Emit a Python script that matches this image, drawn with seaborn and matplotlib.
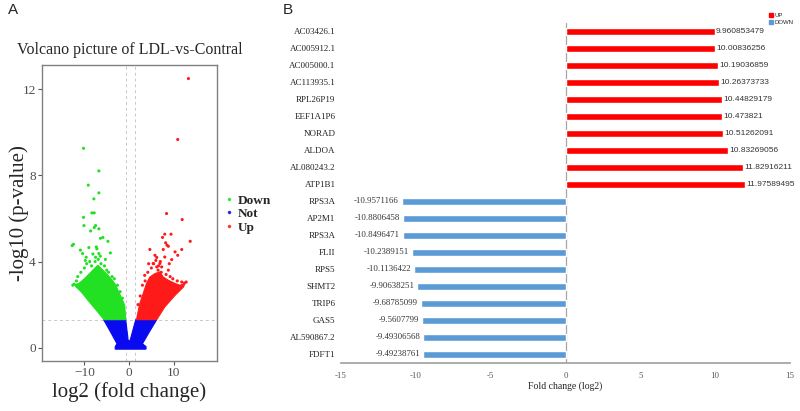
import numpy as np
import pandas as pd
import matplotlib
matplotlib.use("Agg")
import matplotlib.pyplot as plt
import seaborn as sns
from matplotlib.lines import Line2D
from matplotlib.patches import Patch

# ---------------- Panel B data ----------------
genes = ["AC03426.1", "AC005912.1", "AC005000.1", "AC113935.1", "RPL26P19",
         "EEF1A1P6", "NORAD", "ALDOA", "AL080243.2", "ATP1B1",
         "RPS3A", "AP2M1", "RPS3A", "FLII", "RPS5",
         "SHMT2", "TRIP6", "GAS5", "AL590867.2", "FDFT1"]
fold_changes = [9.960853479, 10.00836256, 10.19036859, 10.26373733, 10.44829179,
                10.473821, 10.51262091, 10.83269056, 11.82916211, 11.97589495,
                -10.9571166, -10.8806458, -10.8496471, -10.2389151, -10.1136422,
                -9.90638251, -9.68785099, -9.5607799, -9.49306568, -9.49238761]
directions = ["UP", "UP", "UP", "UP", "UP", "UP", "UP", "UP", "UP", "UP",
              "DOWN", "DOWN", "DOWN", "DOWN", "DOWN", "DOWN", "DOWN", "DOWN", "DOWN", "DOWN"]
bar_xticks = [-15, -10, -5, 0, 5, 10, 15]

# ---------------- Panel A data ----------------
down_x = [-10.2, -6.76, -9.14, -6.76, -7.88, -8.33, -7.8, -10.2, -10.1, -7.5, -7.8, -6.76,
          -8.6, -6.4, -5.86, -4.73, -12.45, -12.75, -7.34, -7.2, -9.0, -10.9, -10.4, -6.76,
          -6.44, -4.19, -9.6, -7.5, -11.5, -10.8, -10.0, -9.5, -8.8, -8.4, -7.6, -6.9, -6.3,
          -5.5, -5.0, -4.6, -3.8, -3.3, -12.3, -11.8, -9.8, -5.3, -8.1, -12.6, -2.6, -2.0, -1.5]
down_y = [9.26, 8.21, 7.55, 7.19, 6.91, 6.26, 6.26, 6.05, 5.67, 5.67, 5.58, 5.52,
          5.42, 5.08, 5.12, 4.94, 4.8, 4.74, 4.68, 4.59, 4.65, 4.53, 4.37, 4.37,
          4.25, 4.4, 4.2, 4.2, 3.3, 3.5, 3.7, 3.9, 4.0, 3.8, 4.0, 4.1, 3.9,
          3.8, 3.6, 3.5, 3.3, 3.2, 2.95, 3.1, 4.05, 4.1, 4.35, 2.9, 2.9, 2.6, 2.3]
up_x = [13.3, 10.9, 8.4, 11.9, 8.0, 9.4, 7.5, 8.2, 8.5, 13.7, 4.66, 7.66, 11.8, 8.8, 10.3,
        10.9, 5.8, 6.2, 9.55, 8.0, 5.4, 6.9, 7.3, 3.5, 8.8, 12.4, 6.5, 6.2,
        3.0, 3.6, 4.2, 5.0, 5.5, 6.6, 7.2, 8.3, 9.2, 9.8, 10.8, 11.8, 12.8, 7.0, 6.0,
        4.4, 9.0, 2.5, 2.0]
up_y = [12.5, 9.67, 6.23, 5.95, 5.27, 5.27, 5.12, 4.87, 4.76, 4.94, 4.56, 4.56, 4.56, 4.71, 4.45,
        4.29, 4.29, 4.19, 4.09, 4.21, 3.91, 3.91, 3.75, 3.36, 3.6, 3.0, 3.6, 3.75,
        2.9, 3.1, 3.5, 3.7, 3.9, 3.8, 3.5, 3.4, 3.3, 3.2, 3.1, 3.05, 3.05, 4.0, 4.05,
        3.9, 3.9, 2.4, 2.0]
# dense cores (outlines of the solid point clouds)
down_core_x = [-12.0, -11.1, -9.6, -8.1, -7.0, -5.86, -4.35, -3.2, -2.1, -0.97, -0.75,
               -5.6, -7.3, -9.2, -10.7, -12.0]
down_core_y = [2.93, 3.0, 3.28, 3.6, 3.83, 3.6, 3.28, 2.98, 2.5, 1.97, 1.3,
               1.3, 1.73, 2.2, 2.59, 2.85]
up_core_x = [1.67, 2.4, 3.15, 3.9, 4.66, 5.8, 6.9, 7.66, 8.8, 10.3, 11.4, 12.5, 12.2,
             10.3, 8.0, 6.2]
up_core_y = [1.3, 2.05, 2.5, 2.98, 3.28, 3.44, 3.52, 3.28, 3.13, 2.98, 2.9, 2.98, 2.82,
             2.43, 1.89, 1.3]
not_core_x = [-5.7, -4.2, -2.7, -3.1, -3.1, 3.8, 3.8, 3.0, 4.6, 6.2, 1.5, 0.25, 0.0, -0.2, -0.75]
not_core_y = [1.3, 0.75, 0.18, 0.05, -0.07, -0.07, 0.05, 0.18, 0.75, 1.3, 1.3, 0.35, 0.3, 0.35, 1.3]
volcano_xticks = [-10, 0, 10]
volcano_yticks = [0, 4, 8, 12]

GREEN = "#22E022"
RED = "#FF1A1A"
BLUE = "#0A0AF0"
BAR_RED = "#FF0000"
BAR_BLUE = "#5B9BD5"

sns.set_theme(style="white")
plt.rcParams["font.family"] = ["Liberation Serif", "DejaVu Serif"]

fig = plt.figure(figsize=(8, 4.11), dpi=100)
W, H = 800, 411

# ---------------- Panel A ----------------
axA = fig.add_axes([42 / W, 1 - 361 / H, (217 - 42) / W, (361 - 65) / H])
axA.fill(not_core_x, not_core_y, color=BLUE, lw=0.8, ec=BLUE, zorder=2)
axA.fill(down_core_x, down_core_y, color=GREEN, lw=0.8, ec=GREEN, zorder=2)
axA.fill(up_core_x, up_core_y, color=RED, lw=0.8, ec=RED, zorder=2)
pts = pd.DataFrame({
    "x": down_x + up_x,
    "y": down_y + up_y,
    "group": ["Down"] * len(down_x) + ["Up"] * len(up_x),
})
sns.scatterplot(data=pts, x="x", y="y", hue="group", palette={"Down": GREEN, "Up": RED},
                s=5, linewidth=0, legend=False, ax=axA, zorder=3)
axA.axhline(1.30103, color="#c8c8c8", ls=(0, (3, 3)), lw=0.7, zorder=1)
axA.axvline(-0.75, color="#c8c8c8", ls=(0, (3, 3)), lw=0.7, zorder=1)
axA.axvline(1.25, color="#c8c8c8", ls=(0, (3, 3)), lw=0.7, zorder=1)
axA.set_xlim(-19.5, 19.7)
axA.set_ylim(-0.62, 13.13)
axA.set_xticks(volcano_xticks)
axA.set_yticks(volcano_yticks)
axA.tick_params(axis="both", which="both", length=3, width=0.8, color="#555555",
                labelsize=9.5, labelcolor="#4d4d4d", pad=1.5, direction="out",
                bottom=True, left=True)
for s in axA.spines.values():
    s.set_color("#808080")
    s.set_linewidth(1.0)
axA.set_xlabel("log2 (fold change)", fontsize=15)
axA.set_ylabel("-log10 (p-value)", fontsize=15)
axA.xaxis.set_label_coords(0.5, -0.072)
axA.yaxis.set_label_coords(-0.075, 0.5)
axA.text(0.5, 1 + (65 - 50) / 296, "Volcano picture of LDL-vs-Contral", transform=axA.transAxes,
         ha="center", va="center", fontsize=11.5)
leg_handles = [Line2D([], [], marker="o", ls="", color=c, markersize=1.5, alpha=0.8)
               for c in (GREEN, BLUE, RED)]
legA = fig.legend(leg_handles, ["Down", "Not", "Up"], loc="center left",
                  bbox_to_anchor=(219 / W, 1 - 214 / H), frameon=False,
                  prop={"family": "Liberation Serif", "weight": "bold", "size": 9.5},
                  handlelength=0.5, handletextpad=0.45, labelspacing=0.1, borderpad=0)

fig.text(8 / W, 1 - 10 / H, "A", fontsize=11, family="Liberation Sans", va="center", ha="left")
fig.text(283 / W, 1 - 10 / H, "B", fontsize=11, family="Liberation Sans", va="center", ha="left")

# ---------------- Panel B ----------------
axB = fig.add_axes([341 / W, 1 - 362.7 / H, (790 - 341) / W, (362.7 - 23) / H])
df = pd.DataFrame({"pos": list(range(len(genes))), "gene": genes,
                   "fc": fold_changes, "dir": directions})
sns.barplot(data=df, x="fc", y="pos", hue="dir", hue_order=["UP", "DOWN"],
            palette={"UP": BAR_RED, "DOWN": BAR_BLUE}, orient="h", dodge=False,
            width=0.4, saturation=1, ax=axB, legend=False)
axB.set_xlim(-15, 15)
axB.set_ylim(len(genes) - 0.5, -0.5)
axB.set_yticks(range(len(genes)))
axB.set_yticklabels(genes)
axB.set_xticks(bar_xticks)
axB.set_xticklabels([str(t) for t in bar_xticks])
axB.tick_params(axis="y", length=0, labelsize=6.5, labelcolor="#222222", pad=4)
axB.tick_params(axis="x", length=0, labelsize=6.3, labelcolor="#555555", pad=7)
for side in ("top", "right", "left"):
    axB.spines[side].set_visible(False)
axB.spines["bottom"].set_color("#a6a6a6")
axB.spines["bottom"].set_linewidth(1.3)
axB.axvline(0, color="#a6a6a6", lw=0.9, zorder=0)
axB.set_xlabel("Fold change (log2)", fontsize=7, color="#222222", labelpad=1)
axB.set_ylabel("")
for i, v in enumerate(fold_changes):
    if v >= 0:
        axB.text(v + 0.1, i, str(v), ha="left", va="center", fontsize=6.0,
                 family="Liberation Sans", color="#333333")
    else:
        axB.text(v - 0.2, i, str(v), ha="right", va="center", fontsize=6.3,
                 color="#333333")
axB.legend(handles=[Patch(color=BAR_RED, label="UP"), Patch(color=BAR_BLUE, label="DOWN")],
           loc="upper left", bbox_to_anchor=(766 / W, 1 - 10 / H), bbox_transform=fig.transFigure,
           frameon=False, prop={"family": "Liberation Sans", "size": 4.3},
           handlelength=0.7, handleheight=0.7, handletextpad=0.3, labelspacing=0.35,
           borderpad=0)

fig.savefig("out.png", dpi=100)
